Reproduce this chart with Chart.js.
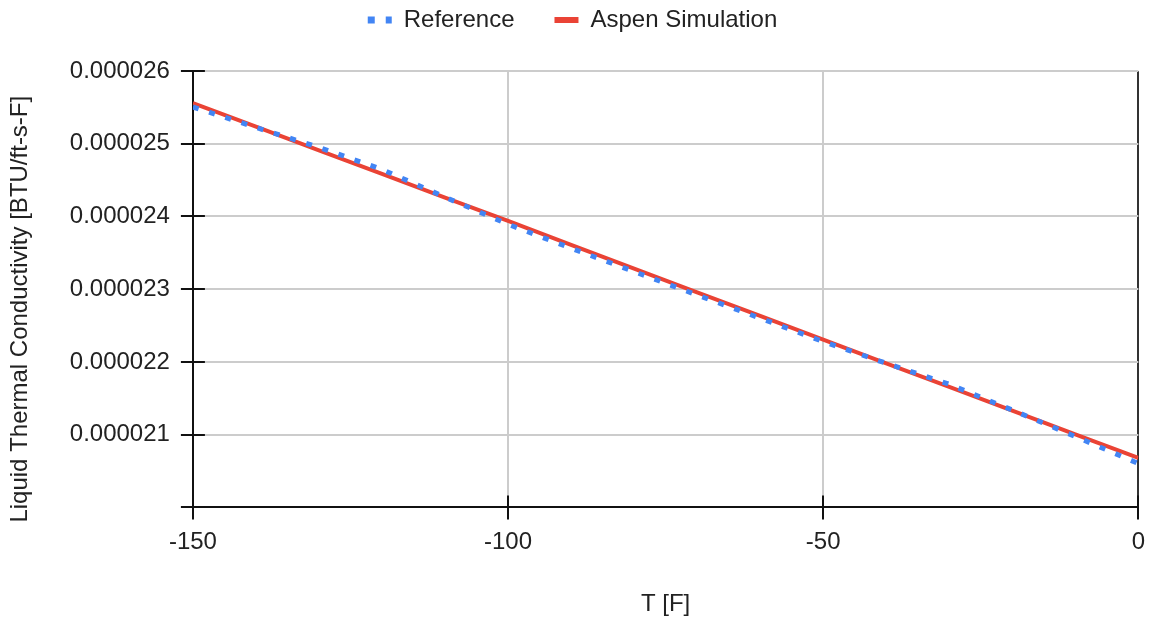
<!DOCTYPE html>
<html>
<head>
<meta charset="utf-8">
<script src="https://cdn.jsdelivr.net/npm/chart.js@4"></script>
<style>
html,body{margin:0;padding:0;background:#fff;}
#wrap{width:1154px;height:620px;}
</style>
</head>
<body>
<div id="wrap"><canvas id="tcChart"></canvas></div>
<script>
// temperatures (F)
const temps = [-150,-140,-130,-120,-110,-100,-90,-80,-70,-60,-50,-40,-30,-20,-10,0];

// liquid thermal conductivity, BTU/ft-s-F
const referenceValues = [
0.000025505,0.000025224,0.000024950,0.000024646,0.000024266,0.000023892,
0.000023564,0.000023242,0.000022920,0.000022602,0.000022279,0.000021981,
0.000021693,0.000021338,0.000020975,0.000020604
];
const aspenValues = [
0.000025560,0.000025235,0.000024909,0.000024584,0.000024259,0.000023940,
0.000023608,0.000023283,0.000022957,0.000022632,0.000022307,0.000021981,
0.000021656,0.000021331,0.000021005,0.000020680
];

const xTicks = [-150,-100,-50,0];
const yTicks = [0.000020,0.000021,0.000022,0.000023,0.000024,0.000025,0.000026];

const fontFam = "Arial, 'Liberation Sans', sans-serif";
const fontSize = 24;

function toPoints(xs, ys){
return xs.map(function(x,i){ return {x:x, y:ys[i]}; });
}

// short black tick marks drawn inside the plot area too
const innerTicks = {
id:"innerTicks",
afterDraw:function(chart){
const ctx = chart.ctx;
const xs = chart.scales.x;
const ys = chart.scales.y;
const area = chart.chartArea;
ctx.save();
ctx.strokeStyle = "#111";
ctx.lineWidth = 2;
ctx.beginPath();
xTicks.forEach(function(v){
const px = Math.round(xs.getPixelForValue(v));
ctx.moveTo(px, area.bottom);
ctx.lineTo(px, area.bottom - 12);
});
yTicks.forEach(function(v){
const py = Math.round(ys.getPixelForValue(v));
ctx.moveTo(area.left, py);
ctx.lineTo(area.left + 12, py);
});
ctx.stroke();
ctx.restore();
}
};

// legend needs wide item spacing but little height, so stretch its box a bit
const legendSpace = {
id:"legendSpace",
beforeLayout:function(chart){
const lg = chart.legend;
if (!lg || lg._spaced) return;
const fit = lg.fit;
lg.fit = function(){
fit.call(this);
this.height += 29;
};
lg._spaced = true;
}
};

new Chart(document.getElementById("tcChart"),{

type:"line",

data:{
datasets:[{
label:"Reference",
data:toPoints(temps, referenceValues),
borderColor:"#4285F4",
backgroundColor:"#4285F4",
borderWidth:5,
borderDash:[6,11],
pointRadius:0,
fill:false
},{
label:"Aspen Simulation",
data:toPoints(temps, aspenValues),
borderColor:"#EA4335",
backgroundColor:"#EA4335",
borderWidth:4,
pointRadius:0,
fill:false
}]
},

options:{
responsive:true,
maintainAspectRatio:false,
animation:false,
layout:{padding:{left:4,right:13,top:-32,bottom:1}},
plugins:{
tooltip:{enabled:false},
legend:{
position:"top",
labels:{
color:"#222",
font:{family:fontFam,size:fontSize},
usePointStyle:true,
pointStyleWidth:24,
padding:40,
generateLabels:function(chart){
return chart.data.datasets.map(function(ds,i){
return {
text:ds.label,
datasetIndex:i,
pointStyle:"line",
strokeStyle:ds.borderColor,
fillStyle:ds.borderColor,
lineWidth:i === 0 ? 7 : 6,
lineDash:i === 0 ? [7,11] : [],
fontColor:"#222"
};
});
}
}
}
},
scales:{
x:{
type:"linear",
min:-150,
max:0,
afterBuildTicks:function(scale){
scale.ticks = xTicks.map(function(v){ return {value:v}; });
},
grid:{
color:function(c){ return c.tick && c.tick.value === 0 ? "#333" : "#ccc"; },
lineWidth:2,
tickColor:"#111",
tickLength:12,
tickWidth:2
},
border:{color:"#111",width:2},
ticks:{
color:"#222",
font:{family:fontFam,size:fontSize},
padding:9,
maxRotation:0
},
title:{
display:true,
text:"T [F]",
color:"#222",
font:{family:fontFam,size:fontSize},
padding:{top:24,bottom:0}
}
},
y:{
min:0.000020,
max:0.000026,
afterBuildTicks:function(scale){
scale.ticks = yTicks.map(function(v){ return {value:v}; });
},
grid:{
color:"#ccc",
lineWidth:2,
tickColor:"#111",
tickLength:12,
tickWidth:2
},
border:{color:"#111",width:2},
ticks:{
color:"#222",
font:{family:fontFam,size:fontSize},
padding:11,
callback:function(v){
if (Math.abs(v - 0.000020) < 1e-10) return "";
return Number(v).toFixed(6);
}
},
title:{
display:true,
// trailing spaces nudge the centred title a little lower, as in the original
text:"Liquid Thermal Conductivity [BTU/ft-s-F]      ",
color:"#222",
font:{family:fontFam,size:fontSize},
padding:{top:2,bottom:24}
}
}
}
},

plugins:[innerTicks, legendSpace]

});
</script>
</body>
</html>
